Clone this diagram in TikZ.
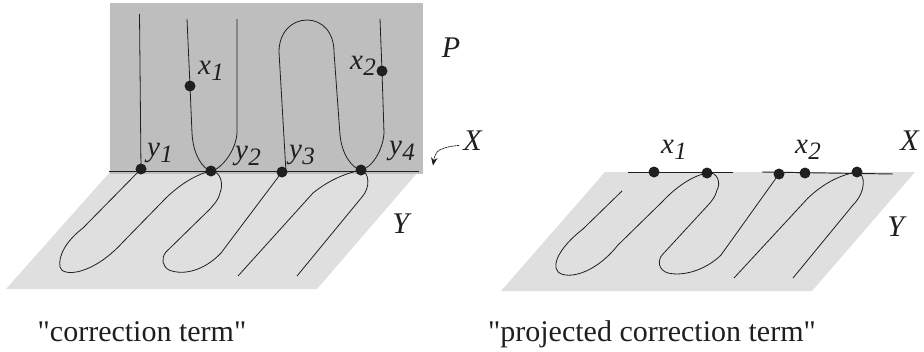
\documentclass[tikz,border=0pt]{standalone}
\usepackage{fontspec}
\setmainfont{Liberation Serif}[Ligatures=TeXOff]
\usetikzlibrary{arrows.meta}
\definecolor{planeP}{gray}{0.745}
\definecolor{planeY}{gray}{0.875}
\definecolor{ink}{gray}{0.12}
\newcommand{\subvar}[2]{\textit{#1}\kern0.5pt\raisebox{-0.42ex}{\fontsize{25}{27}\selectfont\textit{#2}}}
\tikzset{
  curve/.style={draw=ink,line width=0.8pt},
  axisline/.style={draw=ink,line width=0.95pt},
  dotmark/.style={circle,fill=ink,inner sep=0pt,minimum width=11pt,minimum height=10pt},
  lab/.style={inner sep=0pt,text=ink,font=\fontsize{30}{34}\selectfont},
  sublab/.style={inner sep=0pt,text=ink,font=\fontsize{29}{32}\selectfont},
  captext/.style={inner sep=0pt,text=ink,anchor=base,font=\fontsize{30}{34}\selectfont}
}
\begin{document}
\begin{tikzpicture}[x=1pt,y=-1pt]
\useasboundingbox (0,0) rectangle (924,351);
% left planes
\fill[planeY] (110,172) -- (418,172) -- (317,289) -- (6,289) -- cycle;
\fill[planeP] (110,3) rectangle (423,174);
% right plane
\fill[planeY] (605,172) -- (915,172) -- (812,291) -- (501,291) -- cycle;

% named points, left
\node[dotmark] (y1) at (141,169) {};
\node[dotmark] (y2) at (211,171) {};
\node[dotmark] (y3) at (282,172) {};
\node[dotmark] (y4) at (361,170) {};
\node[dotmark] (x1) at (190,86) {};
\node[dotmark] (x2) at (382,71) {};
\coordinate (Xa) at (109,171.5);
\coordinate (Xb) at (419,171.5);
\coordinate (t1) at (139.5,14);
\coordinate (t2) at (187,19);
\coordinate (t3) at (237,19);
\coordinate (t4) at (380,19);
\coordinate (b3) at (238,276);
\coordinate (b4) at (297,276);
\draw[axisline] (Xa) -- (Xb);
% upper strands
\draw[curve] (t1) -- (y1.center);
\draw[curve] (t2) -- (x1.center) -- (192,133) .. controls (193,155) and (203,169) .. (y2.center)
   .. controls (222,169) and (236,150) .. (237,133) -- (t3);
\draw[curve] (y3.center) -- (286,172) -- (279,52) .. controls (279,32) and (292,20) .. (307,20)
   .. controls (322,20) and (334,32) .. (334,52) -- (340,135)
   .. controls (342,155) and (352,168) .. (y4.center)
   .. controls (372,168) and (383,150) .. (384,133) -- (x2.center) -- (t4);
% lower strands
\draw[curve] (y1.center) -- (83,228) .. controls (66,241) and (58,256) .. (60,267)
   .. controls (62,277) and (92,276) .. (123,242) -- (165,199)
   .. controls (180,184) and (197,174) .. (y2.center)
   .. controls (220,171) and (224,183) .. (220,193) .. controls (218,201) and (214,204) .. (210,209)
   -- (166,252) .. controls (161,258) and (162,266) .. (169,270)
   .. controls (184,276) and (205,270) .. (221,253) -- (y3.center);
\draw[curve] (b3) -- (313,193) .. controls (328,181) and (343,174) .. (y4.center)
   .. controls (369,172) and (371,187) .. (362,197) -- (b4);

% named points, right
\node[dotmark] (rp1) at (654,172) {};
\node[dotmark] (rp2) at (707,173) {};
\node[dotmark] (rp3) at (779,174) {};
\node[dotmark] (rp4) at (805,173) {};
\node[dotmark] (rp5) at (857,172) {};
\coordinate (Ra) at (628,172);
\coordinate (Rb) at (733,172);
\coordinate (Rc) at (762,172);
\coordinate (Rd) at (893,174);
\coordinate (rs) at (622,191);
\coordinate (r3) at (734,278);
\coordinate (r4) at (793,278);
\draw[axisline] (Ra) -- (Rb);
\draw[axisline] (Rc) -- (Rd);
\draw[curve] (rs) -- (583,229) .. controls (566,242) and (554,258) .. (556,268)
   .. controls (558,280) and (590,280) .. (618,245) -- (662,202)
   .. controls (676,187) and (692,176) .. (rp2.center)
   .. controls (718,171) and (721,184) .. (717,190) .. controls (715,197) and (713,199) .. (710,203)
   -- (663,254) .. controls (657,260) and (658,270) .. (668,273)
   .. controls (686,277) and (708,268) .. (721,255) -- (rp3.center);
\draw[curve] (r3) -- (808,198) .. controls (824,183) and (840,175) .. (rp5.center)
   .. controls (866,174) and (866,192) .. (853,205) -- (r4);

% wiggly arrow
\coordinate (wa) at (459,145.5);
\coordinate (wb) at (433,165.5);
\draw[draw=ink,line width=0.7pt,dash pattern=on 2.5pt off 0.6pt,-{Stealth[length=8pt,width=6.5pt]}]
  (wa) .. controls (455,145) and (453,147) .. (450,146.5) .. controls (447,146) and (445,149) .. (442,149)
  .. controls (438,150) and (435,153) .. (wb);

% labels
\node[sublab] (lx1) at (211,71) {\subvar{x}{1}};
\node[sublab] (lx2) at (363,66) {\subvar{x}{2}};
\node[sublab] (ly1) at (160,153) {\subvar{y}{1}};
\node[sublab] (ly2) at (248,156) {\subvar{y}{2}};
\node[sublab] (ly3) at (302,155) {\subvar{y}{3}};
\node[sublab] (ly4) at (402,151) {\subvar{y}{4}};
\node[lab] (lP) at (451,48) {\textit{P}};
\node[lab] (lX) at (473,141) {\textit{X}};
\node[lab] (lY) at (402,224) {\textit{Y}};
\node[sublab] (rx1) at (674,150) {\subvar{x}{1}};
\node[sublab] (rx2) at (808,150) {\subvar{x}{2}};
\node[lab] (rX) at (910,141) {\textit{X}};
\node[lab] (rY) at (897,227) {\textit{Y}};
\node[captext] (c1) at (142,341) {"correction term"};
\node[captext] (c2) at (652,341) {"projected correction term"};
\end{tikzpicture}
\end{document}
